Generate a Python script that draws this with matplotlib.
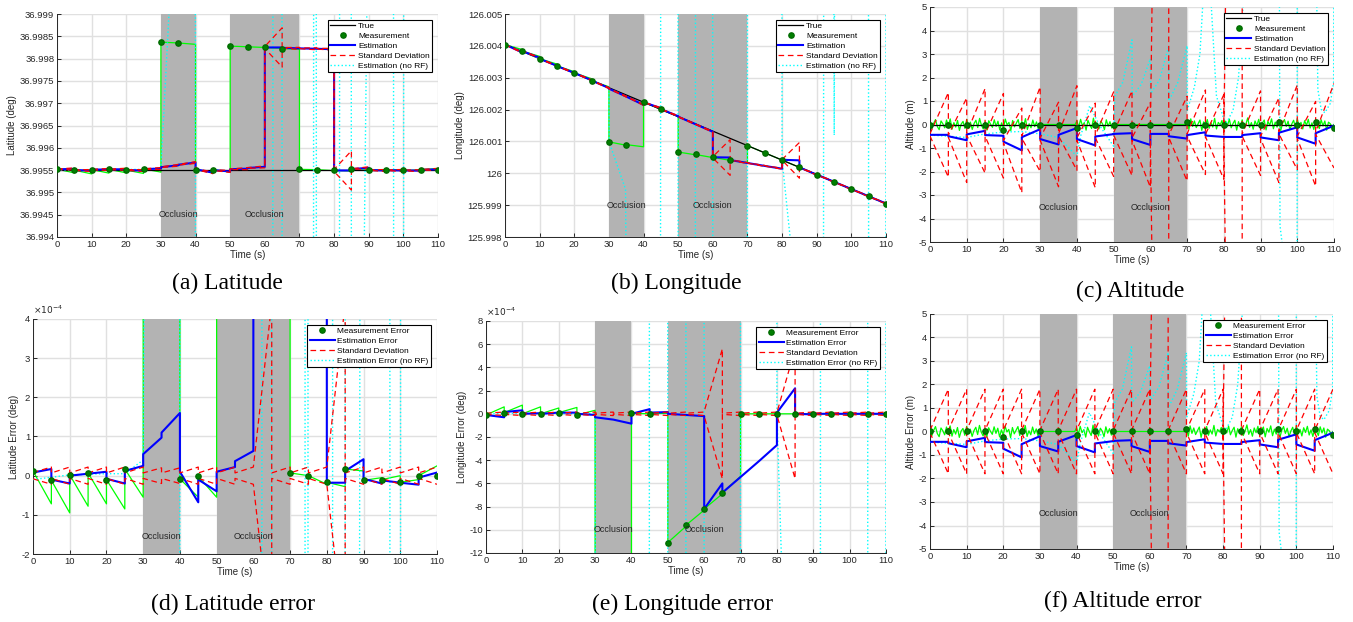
import numpy as np
import matplotlib
matplotlib.use("Agg")
import matplotlib.pyplot as plt
from matplotlib import ticker

plt.rcParams["font.family"] = ["Liberation Sans", "DejaVu Sans"]
plt.rcParams["axes.unicode_minus"] = False

# ---------------------------------------------------------------- data
# measurement epochs (s) and occlusion windows
t_k = [0, 5, 10, 15, 20, 25, 30, 35, 40, 45, 50, 55, 60, 65, 70, 75, 80, 85, 90, 95, 100, 105, 110]
occlusions = [(30, 40), (50, 70)]

# latitude: true value (deg), errors in units of 1e-4 deg
lat_true_t = [0, 110]
lat_true = [36.99551, 36.99551]
lat_meas_err = [0.12, -0.12, 0.02, 0.07, -0.10, 0.17, 28.6, 28.4, -0.08, -0.02, 27.7, 27.55,
                27.4, 27.15, 0.07, 0.00, -0.17, 0.17, -0.12, -0.10, -0.17, 0.00, -0.02]
lat_green_start = [0.12, -0.12, 0.02, 0.07, -0.10, 0.17, 28.6, 28.4, -0.08, -0.02, 27.7,
                   27.55, 27.4, 27.15, 0.07, 0.00, -0.17, 0.17, -0.12, -0.10, -0.17, 0.00]
lat_green_end = [-0.72, -0.95, -0.78, -0.72, -0.85, -0.55, 28.4, 28.1, -0.55, -0.55, 27.55,
                 27.4, 27.2, 27.0, 0.00, -0.22, -0.28, 0.12, -0.05, 0.00, -0.10, 0.25]
lat_est_start = [0.08, -0.10, 0.00, 0.05, -0.08, 0.12, 0.55, 1.10, 0.10, -0.10, 0.10,
                 0.37, 27.4, 27.3, 27.2, 27.1, -0.18, 0.12, -0.08, -0.12, -0.18, -0.05]
lat_est_end = [0.17, -0.20, 0.05, 0.10, -0.20, 0.25, 0.97, 1.60, -0.68, -0.40, 0.22,
               0.63, 27.4, 27.2, 27.1, 27.0, -0.18, 0.42, -0.20, -0.18, -0.23, 0.08]
lat_sig_start = [0.08, 0.07, 0.07, 0.07, 0.07, 0.07, 0.07, 0.07, 0.07, 0.07, 0.07,
                 0.07, 0.22, 0.07, 0.07, 0.07, 0.22, 0.07, 0.07, 0.07, 0.07, 0.07]
lat_sig_end = [0.22, 0.22, 0.22, 0.22, 0.22, 0.22, 0.20, 0.20, 0.22, 0.22, 0.22,
               0.22, 4.40, 0.22, 0.22, 0.22, 4.40, 0.22, 0.22, 0.22, 0.22, 0.22]
lat_norf_t = [0, 10, 20, 25, 30, 32.4, 33, 39.95, 40, 62.3, 62.35, 64.95, 65, 74.05, 74.1,
              74.85, 74.9, 81.55, 81.6, 84.95, 85, 88.1, 89.8, 97.15, 97.2, 100.05, 100.1, 110]
lat_norf_err = [-0.1, 0.02, 0.05, 0.05, 0.4, 36, 60, 60, -60, -60, 60, 60, -60, -60, 60,
                60, -60, -60, 60, 60, -60, -60, 60, 60, -60, -60, 60, 60]

# longitude: true track (deg), errors in units of 1e-4 deg
lon_true_t = [0, 110]
lon_true = [126.00405, 125.99905]
lon_meas_err = [-0.1, 0.1, 0.0, 0.0, 0.1, -0.1, -17.0, -15.6, 0.05, 0.0, -11.1, -9.6,
                -8.2, -6.8, 0.0, 0.0, 0.0, 0.0, 0.0, 0.0, 0.0, 0.0, 0.0]
lon_green_start = [-0.1, 0.1, 0.0, 0.0, 0.1, -0.1, -17.0, -15.6, 0.05, 0.0, -11.1,
                   -9.6, -8.2, -6.8, 0.0, 0.0, 0.0, 0.0, 0.0, 0.0, 0.0, 0.0]
lon_green_end = [0.6, 0.75, 0.6, 0.5, 0.55, 0.3, -15.8, -14.0, 0.0, 0.05, -9.7,
                 -8.3, -6.9, -5.4, 0.0, 0.0, 0.0, 0.0, 0.0, 0.0, 0.0, 0.0]
lon_est_start = [-0.1, 0.15, 0.0, 0.0, 0.1, 0.0, -0.3, -0.5, 0.0, 0.1, 0.0,
                 -0.1, -8.2, -6.8, -5.45, -4.1, 0.1, 0.0, 0.0, 0.0, 0.0, 0.0]
lon_est_end = [-0.3, 0.3, 0.05, 0.1, 0.1, -0.1, -0.5, -0.85, 0.4, 0.15, -0.1,
               -0.2, -6.0, -5.45, -4.1, -2.7, 2.2, -0.05, 0.0, 0.0, 0.0, 0.0]
lon_sig_start = [0.05, 0.05, 0.05, 0.05, 0.05, 0.05, 0.05, 0.05, 0.05, 0.05, 0.05,
                 0.05, 0.20, 0.05, 0.05, 0.05, 0.10, 0.05, 0.05, 0.05, 0.05, 0.05]
lon_sig_end = [0.15, 0.15, 0.15, 0.15, 0.15, 0.15, 0.15, 0.15, 0.15, 0.15, 0.15,
               0.15, 5.6, 0.15, 0.15, 0.15, 5.6, 0.15, 0.15, 0.15, 0.15, 0.15]
lon_norf_t = [0, 10, 20, 30, 30.05, 34.8, 35, 44.9, 44.95, 49.95, 50, 54.95, 55, 59.95, 60,
              69.95, 70, 79.95, 80, 82.3, 82.4, 91.95, 92, 94.95, 95.05, 95.15, 104.95, 105,
              109.95, 110]
lon_norf_err = [0, 0.05, 0, 0, -17, -29.7, -60, -60, 60, 60, -60, -60, 60, 60, -60,
                -60, 60, 60, 0, -23, -60, -60, 60, 60, 14.7, 60, 60, -60, -60, 60]

# altitude (m), true altitude is zero
alt_true_t = [0, 110]
alt_true = [0.0, 0.0]
alt_meas = [0.0, 0.0, 0.0, 0.0, -0.25, 0.0, 0.0, 0.0, -0.15, 0.0, 0.0, 0.0,
            0.0, 0.0, 0.1, 0.0, 0.0, 0.0, 0.0, 0.1, 0.0, 0.1, -0.15]
alt_est_start = [-0.44, -0.50, -0.42, -0.45, -0.73, -0.54, -0.62, -0.44, -0.62, -0.51, -0.40,
                 -0.62, -0.40, -0.50, -0.45, -0.47, -0.53, -0.45, -0.55, -0.35, -0.55, -0.37]
alt_est_end = [-0.44, -0.67, -0.27, -0.48, -1.10, -0.20, -0.85, -0.15, -0.89, -0.41, -0.37,
               -0.87, -0.40, -0.60, -0.33, -0.53, -0.53, -0.37, -0.67, -0.12, -0.82, -0.05]
alt_sig_start = [0.05, 0.05, 0.05, 0.05, 0.05, 0.05, 0.05, 0.05, 0.05, 0.05, 0.05,
                 0.05, 0.05, 0.05, 0.05, 0.05, 0.05, 0.05, 0.05, 0.05, 0.05, 0.05]
alt_sig_end = [1.8, 1.8, 1.8, 1.8, 1.8, 1.8, 1.8, 1.8, 1.8, 1.8, 1.8,
               1.8, 60.0, 1.8, 1.8, 1.8, 60.0, 1.8, 1.8, 1.8, 1.8, 1.8]
alt_norf_t = [0, 5, 10, 15, 20, 25, 30, 35, 40, 41, 43.5, 46, 50, 50.3, 52.5, 55, 55.05,
              57.5, 60, 60.05, 62.5, 65, 65.05, 67.5, 70, 70.05, 72, 73.5, 74.3, 75.5, 78,
              80.5, 82.5, 84, 85.3, 95.1, 95.3, 96.2, 99.95, 100, 105.1, 105.6, 106.5, 107.5,
              109, 109.9, 110]
alt_norf = [-0.45, -0.5, -0.55, -0.4, -0.32, -0.3, -0.4, -0.55, -1.35, -0.5, 0.8, 0.0,
            -0.93, 1.2, 1.8, 3.6, 1.2, 1.7, 2.8, 1.3, 1.9, 3.35, 1.0, 1.8, 3.35, 0.6, 1.6,
            3.0, 5.2, 8, 1.2, 0.0, 0.6, 2.0, 5.2, 8, -4.3, -5.5, -8, 8, 8, 1.5, 0.65, 0.5,
            0.9, 1.8, 8]
# raw altimeter readings every 0.5 s (flat while occluded)
alt_raw = [0.12, -0.18, 0.05, 0.21, -0.09, -0.22, 0.15, 0.03, -0.14, 0.19, -0.05, 0.24, -0.2, 0.08, -0.11, 0.17, -0.25, 0.02, 0.13, -0.16,
           0.22, -0.07, 0.1, -0.21, 0.04, 0.18, -0.13, 0.26, -0.03, -0.19, 0.11, -0.24, 0.16, 0.01, -0.12, 0.2, -0.08, 0.14, -0.23, 0.07,
           -0.15, 0.23, -0.02, 0.09, -0.26, 0.17, -0.1, 0.05, 0.21, -0.17, 0.13, -0.06, 0.25, -0.21, 0.03, -0.14, 0.19, -0.09, 0.11, -0.2,
           0, 0, 0, 0, 0, 0, 0, 0, 0, 0, 0, 0, 0, 0, 0, 0, 0, 0, 0, 0,
           0.16, -0.12, 0.22, -0.05, 0.08, -0.24, 0.18, -0.01, -0.17, 0.27, -0.1, 0.06, -0.19, 0.14, 0.02, -0.22, 0.2, -0.07, 0.12, -0.15,
           0, 0, 0, 0, 0, 0, 0, 0, 0, 0, 0, 0, 0, 0, 0, 0, 0, 0, 0, 0,
           0, 0, 0, 0, 0, 0, 0, 0, 0, 0, 0, 0, 0, 0, 0, 0, 0, 0, 0, 0,
           0.1, -0.2, 0.24, -0.08, 0.15, -0.13, 0.03, 0.19, -0.25, 0.11, -0.04, 0.21, -0.16, 0.07, -0.11, 0.26, -0.19, 0.09, -0.02, 0.17,
           -0.21, 0.14, -0.06, 0.23, -0.14, 0.04, 0.18, -0.24, 0.12, -0.09, 0.2, -0.17, 0.01, 0.28, -0.12, 0.08, -0.2, 0.15, -0.05, 0.22,
           -0.16, 0.06, 0.19, -0.23, 0.13, -0.03, 0.24, -0.18, 0.1, -0.11, 0.17, -0.26, 0.05, 0.21, -0.08, 0.14, -0.22, 0.02, 0.18, -0.13,
           0.25, -0.1, 0.09, -0.19, 0.16, -0.04, 0.22, -0.15, 0.07, -0.21, 0.12, 0.0, -0.17, 0.2, -0.06, 0.15, -0.24, 0.1, 0.03, -0.12, 0.0]
alt_raw_t = np.linspace(0, 110, len(alt_raw))

x_ticks = [0, 10, 20, 30, 40, 50, 60, 70, 80, 90, 100, 110]
lat_yticks = [36.994, 36.9945, 36.995, 36.9955, 36.996, 36.9965, 36.997, 36.9975, 36.998, 36.9985, 36.999]
lon_yticks = [125.998, 125.999, 126.0, 126.001, 126.002, 126.003, 126.004, 126.005]
alt_yticks = [-5, -4, -3, -2, -1, 0, 1, 2, 3, 4, 5]
lat_err_yticks = [-2e-4, -1e-4, 0, 1e-4, 2e-4, 3e-4, 4e-4]
lon_err_yticks = [-12e-4, -10e-4, -8e-4, -6e-4, -4e-4, -2e-4, 0, 2e-4, 4e-4, 6e-4, 8e-4]

abs_labels = ["True", "Measurement", "Estimation", "Standard Deviation", "Estimation (no RF)"]
err_labels = ["Measurement Error", "Estimation Error", "Standard Deviation", "Estimation Error (no RF)"]


def saw(start, end):
    # one straight segment per measurement interval, jumps at the epochs
    x, y = [], []
    for k in range(len(start)):
        x += [t_k[k], t_k[k + 1]]
        y += [start[k], end[k]]
    return np.array(x, dtype=float), np.array(y, dtype=float)


def series(base, scale, green, meas, est, sig, norf, about_est):
    gx, gy = green
    ex, ey = est
    nx, ny = norf
    s = {
        "green": (gx, base(gx) + np.asarray(gy) * scale),
        "meas": (np.array(t_k, float), base(np.array(t_k, float)) + np.asarray(meas) * scale),
        "est": (ex, base(ex) + ey * scale),
        "norf": (np.asarray(nx, float), base(np.asarray(nx, float)) + np.asarray(ny) * scale),
    }
    centre = s["est"][1] if about_est else np.zeros(len(ex))
    s["upper"] = (ex, centre + sig * scale)
    s["lower"] = (ex, centre - sig * scale)
    return s


lat_base = lambda x: np.interp(x, lat_true_t, lat_true)
lon_base = lambda x: np.interp(x, lon_true_t, lon_true)
zero = lambda x: np.zeros(len(x))

lat_g, lat_e, (_, lat_s) = saw(lat_green_start, lat_green_end), saw(lat_est_start, lat_est_end), saw(lat_sig_start, lat_sig_end)
lon_g, lon_e, (_, lon_s) = saw(lon_green_start, lon_green_end), saw(lon_est_start, lon_est_end), saw(lon_sig_start, lon_sig_end)
alt_e, (_, alt_s) = saw(alt_est_start, alt_est_end), saw(alt_sig_start, alt_sig_end)

# ---------------------------------------------------------------- figure
W, H = 1353, 622
fig = plt.figure(figsize=(W / 100, H / 100), dpi=100)
TXT = (0.15, 0.15, 0.15)
SHADE = (0.70, 0.70, 0.70)


def add_axes(l, t, r, b):
    return fig.add_axes([l / W, 1 - b / H, (r - l) / W, (b - t) / H])


def draw(ax, s, labels, ylim, yticks, ylabel, occl_y, true_line=None, sci=False):
    ax.set_axisbelow(True)
    for a, b in occlusions:
        ax.axvspan(a, b, color=SHADE, lw=0, zorder=1)
        ax.text((a + b) / 2, occl_y, "Occlusion", ha="center", va="center", fontsize=6.5, color=TXT, zorder=7)
    ax.plot(*s["green"], color=(0, 1, 0), lw=0.9, zorder=2)
    handles = []
    if true_line is not None:
        h, = ax.plot(*true_line, color="k", lw=0.9, zorder=3)
        handles.append(h)
    h_norf, = ax.plot(*s["norf"], color=(0, 1, 1), ls=":", lw=1.0, zorder=3)
    h_est, = ax.plot(*s["est"], color=(0, 0, 1), lw=1.5, zorder=4)
    h_std, = ax.plot(*s["upper"], color=(1, 0, 0), ls=(0, (4.5, 3)), lw=0.9, zorder=5)
    ax.plot(*s["lower"], color=(1, 0, 0), ls=(0, (4.5, 3)), lw=0.9, zorder=5)
    h_meas, = ax.plot(*s["meas"], "o", color=(0, 0.5, 0), mec=(0, 0.42, 0), ms=3.8, zorder=6)
    handles += [h_meas, h_est, h_std, h_norf]

    ax.set_xlim(0, 110)
    ax.set_ylim(*ylim)
    ax.set_xticks(x_ticks)
    ax.set_yticks(yticks)
    if sci:
        # tick labels in units of 1e-4, exponent shown above the axis
        ax.yaxis.set_major_formatter(ticker.FuncFormatter(lambda v, p: "%g" % round(v * 1e4, 6)))
        ax.text(0, 1.012, r"$\times10^{-4}$", transform=ax.transAxes, fontsize=6.5, color=TXT,
                ha="left", va="bottom")
    else:
        ax.yaxis.set_major_formatter(ticker.FormatStrFormatter("%g"))
    ax.grid(True, color=(0.88, 0.88, 0.88), lw=1.0)
    for side in ("top", "right"):
        ax.spines[side].set_visible(False)
    for side in ("left", "bottom"):
        ax.spines[side].set_color(TXT)
        ax.spines[side].set_linewidth(0.7)
    ax.tick_params(direction="in", length=3, width=0.7, color=TXT, labelsize=6.8, labelcolor=TXT, pad=2)
    ax.set_xlabel("Time (s)", fontsize=7, color=TXT, labelpad=1)
    ax.set_ylabel(ylabel, fontsize=7, color=TXT, labelpad=2)

    leg = ax.legend(handles, labels, loc="upper right", fontsize=6, numpoints=1, handlelength=3.0,
                    handletextpad=0.3, labelspacing=0.25, borderpad=0.3, borderaxespad=0.7,
                    fancybox=False, framealpha=1, edgecolor="k")
    leg.get_frame().set_linewidth(0.8)
    leg.set_zorder(10)


lat_abs = series(lat_base, 1e-4, lat_g, lat_meas_err, lat_e, lat_s, (lat_norf_t, lat_norf_err), True)
lon_abs = series(lon_base, 1e-4, lon_g, lon_meas_err, lon_e, lon_s, (lon_norf_t, lon_norf_err), True)
alt_abs = series(zero, 1.0, (alt_raw_t, alt_raw), alt_meas, alt_e, alt_s, (alt_norf_t, alt_norf), True)
lat_err = series(zero, 1e-4, lat_g, lat_meas_err, lat_e, lat_s, (lat_norf_t, lat_norf_err), False)
lon_err = series(zero, 1e-4, lon_g, lon_meas_err, lon_e, lon_s, (lon_norf_t, lon_norf_err), False)
alt_err = series(zero, 1.0, (alt_raw_t, alt_raw), alt_meas, alt_e, alt_s, (alt_norf_t, alt_norf), False)

ax = add_axes(57, 14, 438, 237)
draw(ax, lat_abs, abs_labels, (36.994, 36.999), lat_yticks, "Latitude (deg)", 36.9945, (lat_true_t, lat_true))
ax = add_axes(505, 14, 886, 237)
draw(ax, lon_abs, abs_labels, (125.998, 126.005), lon_yticks, "Longitude (deg)", 125.999, (lon_true_t, lon_true))
ax = add_axes(930, 7, 1334, 242)
draw(ax, alt_abs, abs_labels, (-5, 5), alt_yticks, "Altitude (m)", -3.55, (alt_true_t, alt_true))
ax = add_axes(33, 319, 437, 554)
draw(ax, lat_err, err_labels, (-2e-4, 4e-4), lat_err_yticks, "Latitude Error (deg)", -1.55e-4, sci=True)
ax = add_axes(486, 321, 886, 553)
draw(ax, lon_err, err_labels, (-12e-4, 8e-4), lon_err_yticks, "Longitude Error (deg)", -10e-4, sci=True)
ax = add_axes(930, 314, 1333, 549)
draw(ax, alt_err, err_labels, (-5, 5), alt_yticks, "Altitude Error (m)", -3.5)

captions = [("(a) Latitude", 227, 283), ("(b) Longitude", 676, 283), ("(c) Altitude", 1130, 291),
            ("(d) Latitude error", 233, 604), ("(e) Longitude error", 682, 604), ("(f) Altitude error", 1123, 601)]
for text, cx, cy in captions:
    fig.text(cx / W, 1 - cy / H, text, ha="center", va="center", fontsize=17,
             family=["Liberation Serif", "DejaVu Serif"], color="k")

fig.savefig("out.png", dpi=100)
